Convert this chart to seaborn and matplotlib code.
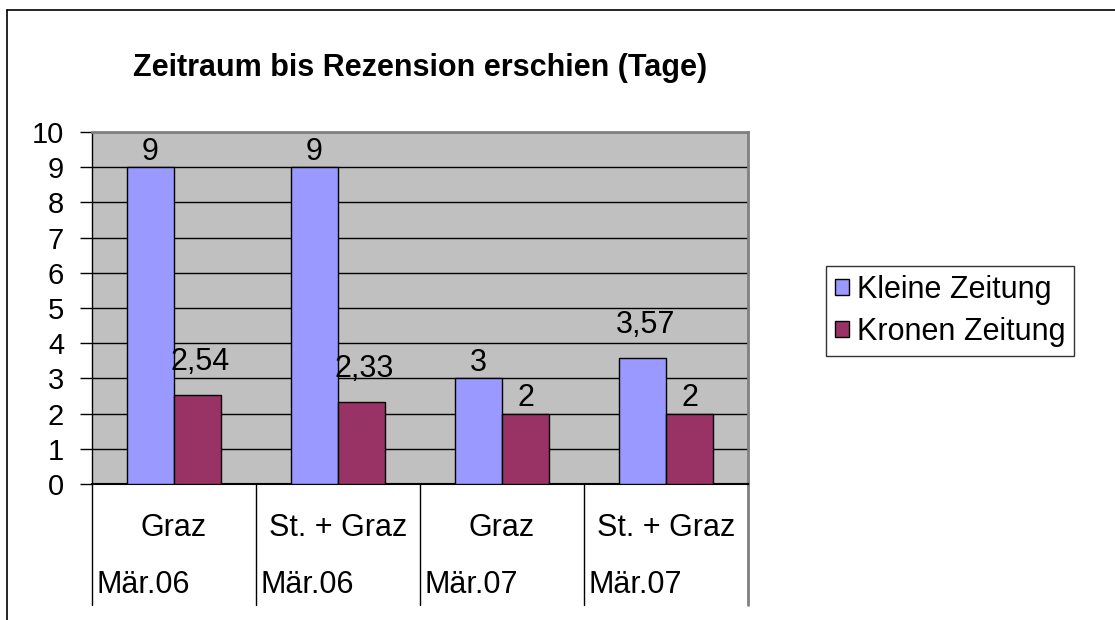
import pandas as pd
import seaborn as sns
import matplotlib.pyplot as plt
from matplotlib.lines import Line2D

# data
places = ["Graz", "St. + Graz", "Graz", "St. + Graz"]
months = ["Mär.06", "Mär.06", "Mär.07", "Mär.07"]
kleine = [9, 9, 3, 3.57]
kronen = [2.54, 2.33, 2, 2]
series = ["Kleine Zeitung", "Kronen Zeitung"]
colors = ["#9999FF", "#993366"]

cats = [f"{p}|{m}|{i}" for i, (p, m) in enumerate(zip(places, months))]
df = pd.DataFrame({
    "cat": cats * 2,
    "series": [series[0]] * 4 + [series[1]] * 4,
    "value": kleine + kronen,
})

sns.set_theme(style="white")
plt.rcParams["font.family"] = ["Liberation Sans", "DejaVu Sans"]
plt.rcParams["text.color"] = "black"
plt.rcParams["ytick.color"] = "black"
plt.rcParams["ytick.labelcolor"] = "black"

FS = 22
W, H = 1115, 620
fig = plt.figure(figsize=(W / 100, H / 100), dpi=100)
# plot area in pixels: x 92..748, y 132..484
ax = fig.add_axes([92 / W, 1 - 484 / H, (748 - 92) / W, (484 - 132) / H])

sns.barplot(data=df, x="cat", y="value", hue="series", palette=colors,
            width=0.574, edgecolor="black", linewidth=1.0, saturation=1,
            ax=ax, zorder=3)

ax.set_facecolor("#C0C0C0")
ax.set_ylim(0, 10)
ax.set_xlim(-0.5, 3.5)
ax.set_yticks(range(0, 11))
ax.yaxis.grid(True, color="black", linewidth=1.0, zorder=1)
ax.set_axisbelow(True)
ax.tick_params(axis="y", left=True, length=9, width=1, color="black",
               labelsize=21, pad=11, direction="out")
ax.set_xticks([])
ax.set_xlabel("")
ax.set_ylabel("")

for s in ["top", "right"]:
    ax.spines[s].set_color("#808080")
    ax.spines[s].set_linewidth(2)
ax.spines["left"].set_color("black")
ax.spines["bottom"].set_color("black")
ax.spines["left"].set_linewidth(1)
ax.spines["bottom"].set_linewidth(1.5)

# value labels with decimal comma (Excel puts the decimal ones higher)
for cont in ax.containers:
    for b in cont:
        v = b.get_height()
        txt = f"{v:g}".replace(".", ",")
        off = 13 if "," in txt else 0.5
        ax.annotate(txt, (b.get_x() + b.get_width() / 2, v),
                    xytext=(2 if "," in txt else 0, off),
                    textcoords="offset points", ha="center", va="bottom",
                    fontsize=FS, color="black")

# multi-level category axis below the plot area
trans = ax.get_xaxis_transform()
low = -(605 - 484) / (484 - 132)
for i in range(5):
    x = i - 0.5
    col = "#808080" if i == 4 else "black"
    lw = 2 if i == 4 else 1
    ax.add_line(Line2D([x, x], [0, low], transform=trans, color=col,
                       linewidth=lw, clip_on=False))
for i, (p, m) in enumerate(zip(places, months)):
    ax.text(i, -(528 - 484) / 352, p, transform=trans, ha="center",
            va="center", fontsize=FS)
    ax.text(i - 0.47, -(585 - 484) / 352, m, transform=trans, ha="left",
            va="center", fontsize=FS)

# legend
handles = [plt.Rectangle((0, 0), 1, 1, facecolor=c, edgecolor="black")
           for c in colors]
leg = fig.legend(handles, series, loc="center left",
                 bbox_to_anchor=(826 / W, 1 - 311 / H), fontsize=FS,
                 frameon=True, fancybox=False, edgecolor="black",
                 handlelength=0.45, handleheight=0.45, handletextpad=0.25,
                 borderpad=0.3, labelspacing=0.4, borderaxespad=0)
leg.get_frame().set_linewidth(1)
if ax.get_legend() is not None:
    ax.get_legend().remove()

fig.text(420 / W, 1 - 68 / H, "Zeitraum bis Rezension erschien (Tage)",
         ha="center", va="center", fontsize=FS, fontweight="bold")

# outer chart border (only top and left visible)
fig.add_artist(Line2D([7 / W, 1], [1 - 10 / H, 1 - 10 / H],
                      transform=fig.transFigure, color="black", linewidth=1.2))
fig.add_artist(Line2D([7 / W, 7 / W], [0, 1 - 10 / H],
                      transform=fig.transFigure, color="black", linewidth=1.2))

fig.savefig("out.png", dpi=100)
